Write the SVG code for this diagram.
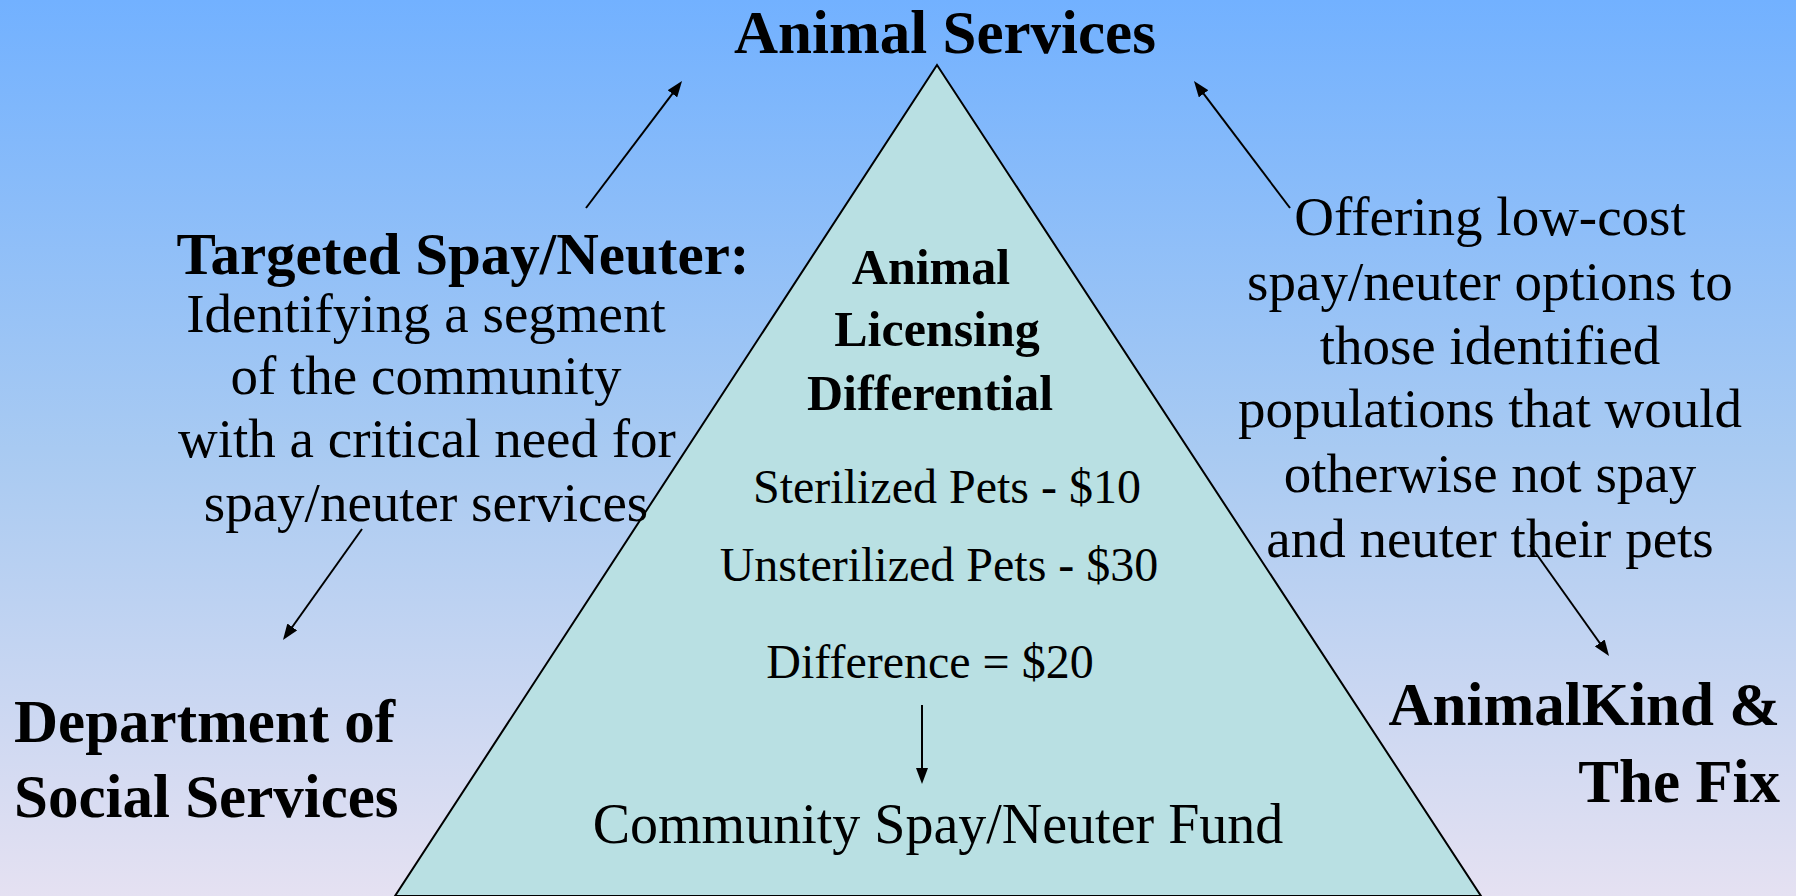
<svg xmlns="http://www.w3.org/2000/svg" width="1796" height="896" viewBox="0 0 1796 896">
<style>
.h{font-family:"Liberation Serif","Times New Roman",serif;font-weight:bold;fill:#000}
.b{font-family:"Liberation Serif","Times New Roman",serif;fill:#000}
.c{text-anchor:middle}
.conn{stroke:#000;stroke-width:2;fill:none;marker-end:url(#ah)}
</style>
<defs>
<linearGradient id="bg" x1="0" y1="0" x2="0" y2="1">
<stop offset="0" stop-color="#72B1FF"/>
<stop offset="0.5" stop-color="#A8CAF2"/>
<stop offset="1" stop-color="#E5E1F2"/>
</linearGradient>
<marker id="ah" markerUnits="userSpaceOnUse" markerWidth="16" markerHeight="12" refX="8" refY="6" orient="auto">
<path d="M0,0 L16,6 L0,12 z" fill="#000"/>
</marker>
</defs>
<rect x="0" y="0" width="1796" height="896" fill="url(#bg)"/>
<g id="pyramid">
<polygon points="937,65 395,896 1481,896" fill="#B9E0E3" stroke="#000" stroke-width="2"/>
<text class="h c" x="931" y="284" font-size="50">Animal</text>
<text class="h c" x="937" y="346" font-size="50">Licensing</text>
<text class="h c" x="930" y="410" font-size="50">Differential</text>
<text class="b c" x="947" y="503" font-size="48">Sterilized Pets - $10</text>
<text class="b c" x="939" y="581" font-size="48">Unsterilized Pets - $30</text>
<text class="b c" x="930" y="678" font-size="48">Difference = $20</text>
<text class="b c" x="938" y="843" font-size="56">Community Spay/Neuter Fund</text>
</g>
<g id="animal-services">
<text class="h c" x="945" y="53" font-size="61">Animal Services</text>
</g>
<g id="targeted">
<text class="h c" x="463" y="274" font-size="59">Targeted Spay/Neuter:</text>
<text class="b c" x="426" y="332" font-size="55">Identifying a segment</text>
<text class="b c" x="426" y="394" font-size="55">of the community</text>
<text class="b c" x="427" y="457" font-size="55">with a critical need for</text>
<text class="b c" x="426" y="521" font-size="55">spay/neuter services</text>
</g>
<g id="offering">
<text class="b c" x="1490" y="235" font-size="55">Offering low-cost</text>
<text class="b c" x="1490" y="300" font-size="55">spay/neuter options to</text>
<text class="b c" x="1490" y="364" font-size="55">those identified</text>
<text class="b c" x="1490" y="427" font-size="55">populations that would</text>
<text class="b c" x="1490" y="492" font-size="55">otherwise not spay</text>
<text class="b c" x="1490" y="557" font-size="55">and neuter their pets</text>
</g>
<g id="dss">
<text class="h" x="14" y="742" font-size="61">Department of</text>
<text class="h" x="14" y="817" font-size="61">Social Services</text>
</g>
<g id="animalkind">
<text class="h" x="1780" y="725" font-size="61" text-anchor="end">AnimalKind &amp;</text>
<text class="h" x="1780" y="802" font-size="61" text-anchor="end">The Fix</text>
</g>
<g id="connectors">
<line class="conn" x1="586" y1="208" x2="677.2" y2="87.4"/>
<line class="conn" x1="1290" y1="208" x2="1198.8" y2="87.4"/>
<line class="conn" x1="362" y1="529" x2="287.6" y2="633.5"/>
<line class="conn" x1="1530" y1="545" x2="1604.4" y2="649.5"/>
<line class="conn" x1="922" y1="705" x2="922" y2="776"/>
</g>
</svg>
